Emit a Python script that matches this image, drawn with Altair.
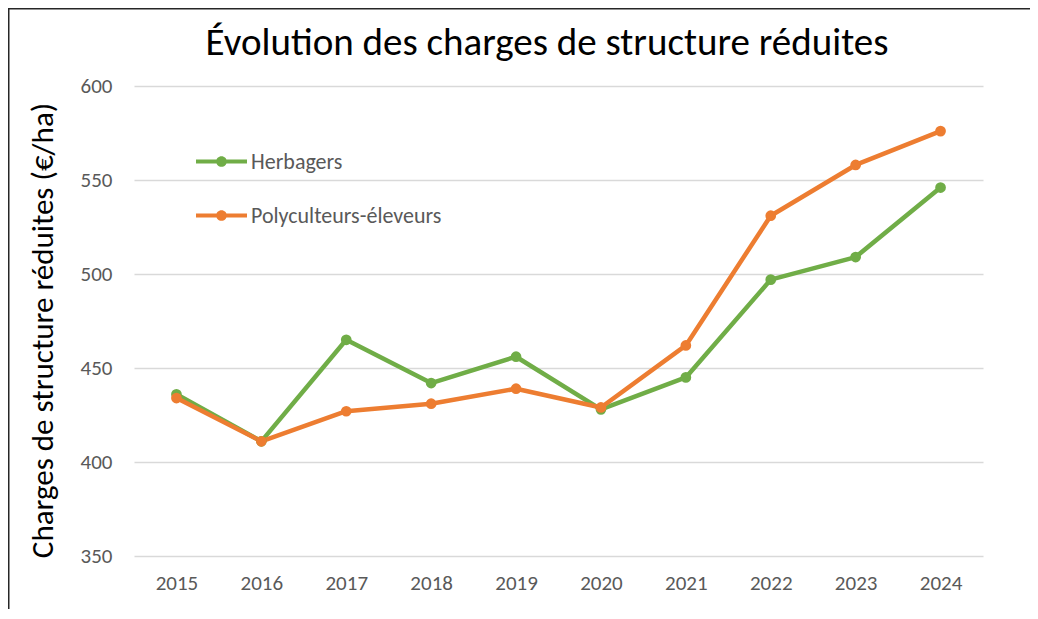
import altair as alt
import pandas as pd

title_text = "Évolution des charges de structure réduites"
y_title = "Charges de structure réduites (€/ha)"
years = ["2015", "2016", "2017", "2018", "2019", "2020", "2021", "2022", "2023", "2024"]
herbagers = [436, 411, 465, 442, 456, 428, 445, 497, 509, 546]
polyculteurs = [434, 411, 427, 431, 439, 429, 462, 531, 558, 576]
series = ["Herbagers", "Polyculteurs-éleveurs"]
colors = ["#70AD47", "#ED7D31"]
y_ticks = [350, 400, 450, 500, 550, 600]

rows = []
for name, vals in zip(series, [herbagers, polyculteurs]):
    for yr, v in zip(years, vals):
        rows.append({"Année": yr, "Série": name, "Valeur": v})
df = pd.DataFrame(rows)

FONT = "Carlito, Calibri, Lato"
W, H = 849, 470
PL, PT, PR, PB = 126, 78, 47, 53

x_enc = alt.X("Année:O", sort=years,
              scale=alt.Scale(type="point", padding=0.5),
              axis=alt.Axis(title=None, labelAngle=0, domain=False, ticks=False, grid=False,
                            labelFont=FONT, labelFontSize=21, labelColor="#595959",
                            labelPadding=16))
y_enc = alt.Y("Valeur:Q",
              scale=alt.Scale(domain=[350, 600], nice=False, zero=False),
              axis=alt.Axis(title=y_title, values=y_ticks,
                            domain=False, ticks=False, grid=True,
                            gridColor="#D9D9D9", gridWidth=1.5,
                            labelFont=FONT, labelFontSize=21, labelColor="#595959",
                            labelPadding=22,
                            titleFont=FONT, titleFontSize=31, titleFontWeight="normal",
                            titleColor="#000000", titlePadding=21, titleY=244))

base = alt.Chart(df)

lines = base.mark_line(strokeWidth=4.5, strokeJoin="round").encode(
    x=x_enc, y=y_enc,
    stroke=alt.Stroke("Série:N", scale=alt.Scale(range=colors), legend=None),
    detail="Série:N",
)

sym = ("M-1,-0.08 L1,-0.08 L1,0.08 L-1,0.08 Z "
       "M-0.21,0 A0.21,0.21 0 1,1 0.21,0 A0.21,0.21 0 1,1 -0.21,0 Z")

points = base.mark_point(filled=True, size=115, opacity=1).encode(
    x=x_enc, y=y_enc,
    fill=alt.Fill("Série:N", scale=alt.Scale(domain=series, range=colors),
                  legend=alt.Legend(title=None, orient="none", legendX=62, legendY=50,
                                    symbolType=sym, symbolSize=2601, symbolStrokeWidth=0,
                                    symbolOpacity=1, labelLimit=0,
                                    rowPadding=17, padding=0, labelOffset=4,
                                    labelFont=FONT, labelFontSize=22, labelColor="#595959")),
)

title_mark = alt.Chart(pd.DataFrame({"t": [title_text]})).mark_text(
    font=FONT, fontSize=39, color="#000000", align="center", baseline="alphabetic"
).encode(text="t:N", x=alt.value(413), y=alt.value(-31))

border_left = alt.Chart(pd.DataFrame({"v": [0]})).mark_rule(color="#262626", strokeWidth=2).encode(
    x=alt.value(-125.5), y=alt.value(-78), y2=alt.value(H + PB))
border_top = alt.Chart(pd.DataFrame({"v": [0]})).mark_rule(color="#262626", strokeWidth=2).encode(
    x=alt.value(-126), x2=alt.value(W + PR), y=alt.value(-77.5))

chart = alt.layer(lines, points, title_mark, border_left, border_top).properties(
    width=W, height=H,
    padding={"left": PL, "top": PT, "right": PR, "bottom": PB},
    autosize=alt.AutoSizeParams(type="none"),
    background="white",
).configure_view(stroke=None)

chart.save("out.html", embed_options={"renderer": "svg", "actions": False})
